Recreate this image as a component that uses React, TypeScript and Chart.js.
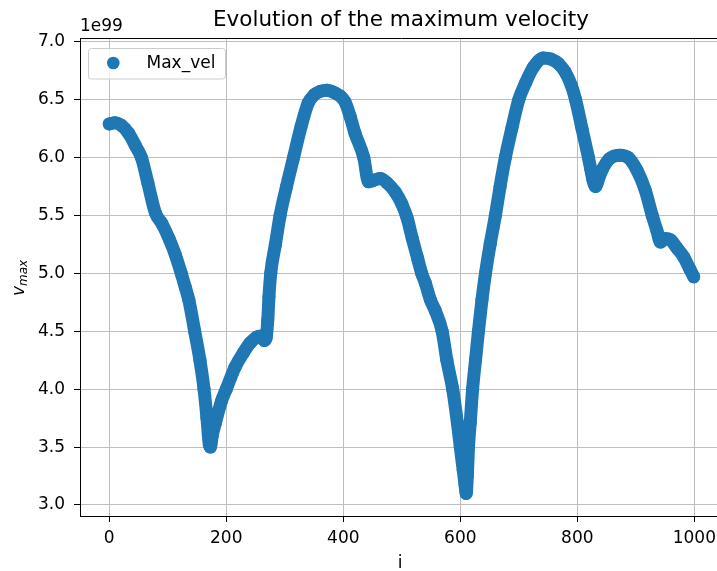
import React, { useEffect, useRef } from "react";
import { Chart, registerables } from "chart.js";

Chart.register(...registerables);

// Sample index i (x axis)
const indices = [
  0, 10, 20, 33, 45, 55, 66, 79, 90, 103, 113, 123, 130, 136, 146, 155, 162, 167, 171, 173,
  176, 181, 192, 200, 215, 230, 241, 252, 260, 265, 268, 271, 273, 276, 284, 292, 303, 315, 328, 340,
  350, 360, 372, 385, 395, 403, 412, 420, 435, 443, 450, 463, 475, 489, 500, 509, 518, 527, 534, 540,
  549, 557, 569, 577, 587, 595, 600, 605, 608, 610, 612, 614, 617, 621, 626, 631, 637, 643, 651, 660,
  668, 677, 688, 700, 712, 725, 742, 755, 768, 779, 790, 797, 808, 819, 823, 826, 831, 838, 842, 855,
  873, 887, 902, 916, 928, 936, 942, 950, 959, 970, 982, 992, 999,
];

// Max velocity, in units of 1e99
const maxVel = [
  6.29, 6.30, 6.28, 6.21, 6.10, 6.00, 5.78, 5.52, 5.43, 5.29, 5.16, 5.00, 4.88, 4.77, 4.50, 4.25, 4.00, 3.75, 3.52, 3.50,
  3.60, 3.70, 3.90, 4.00, 4.19, 4.32, 4.40, 4.45, 4.46, 4.42, 4.44, 4.60, 4.80, 5.00, 5.25, 5.50, 5.75, 6.00, 6.27, 6.47,
  6.54, 6.57, 6.58, 6.56, 6.53, 6.48, 6.35, 6.21, 6.00, 5.79, 5.80, 5.82, 5.78, 5.70, 5.60, 5.48, 5.30, 5.13, 5.00, 4.92,
  4.77, 4.68, 4.50, 4.25, 4.00, 3.71, 3.50, 3.30, 3.18, 3.10, 3.25, 3.50, 3.71, 4.00, 4.25, 4.50, 4.77, 5.00, 5.25, 5.50,
  5.75, 6.00, 6.25, 6.50, 6.65, 6.78, 6.86, 6.85, 6.81, 6.74, 6.62, 6.50, 6.25, 6.00, 5.90, 5.82, 5.75, 5.84, 5.89, 5.99,
  6.02, 6.00, 5.89, 5.72, 5.50, 5.37, 5.27, 5.30, 5.29, 5.22, 5.14, 5.04, 4.97,
];

const xTicks = [0, 200, 400, 600, 800, 1000];
const yTicks = [3.0, 3.5, 4.0, 4.5, 5.0, 5.5, 6.0, 6.5, 7.0];

const seriesLabel = "Max_vel";
const titleText = "Evolution of the maximum velocity";
const offsetText = "1e99";
const xLabel = "i";
const yLabelMain = "v";
const yLabelSub = "max";

const BLUE = "#1f77b4";
const FONT = "'DejaVu Sans', sans-serif";
const TICK_SIZE = 17;
const CANVAS_W = 730;
const CANVAS_H = 571;

const decorPlugin = {
  id: "decor",
  afterDraw(chart: any) {
    const ctx: CanvasRenderingContext2D = chart.ctx;
    const a = chart.chartArea;
    ctx.save();
    // top spine
    ctx.strokeStyle = "#000";
    ctx.lineWidth = 1;
    ctx.beginPath();
    ctx.moveTo(a.left, Math.round(a.top) + 0.5);
    ctx.lineTo(a.right, Math.round(a.top) + 0.5);
    ctx.stroke();

    // title
    ctx.fillStyle = "#000";
    ctx.font = `21.5px ${FONT}`;
    ctx.textAlign = "center";
    ctx.textBaseline = "alphabetic";
    ctx.fillText(titleText, 401, 26);

    // offset text
    ctx.font = `${TICK_SIZE}px ${FONT}`;
    ctx.textAlign = "left";
    ctx.fillText(offsetText, a.left, 31);

    // x label
    ctx.textAlign = "center";
    ctx.fillText(xLabel, 400, 568);

    // y label (v_max), rotated
    ctx.save();
    ctx.translate(24, 278);
    ctx.rotate(-Math.PI / 2);
    ctx.font = `italic ${TICK_SIZE}px ${FONT}`;
    const wMain = ctx.measureText(yLabelMain).width;
    ctx.font = `italic ${TICK_SIZE * 0.7}px ${FONT}`;
    const wSub = ctx.measureText(yLabelSub).width;
    const total = wMain + wSub;
    ctx.textAlign = "left";
    ctx.font = `italic ${TICK_SIZE}px ${FONT}`;
    ctx.fillText(yLabelMain, -total / 2, 0);
    ctx.font = `italic ${TICK_SIZE * 0.7}px ${FONT}`;
    ctx.fillText(yLabelSub, -total / 2 + wMain, 3);
    ctx.restore();

    // legend
    const bx = 88.5, by = 48.5, bw = 137, bh = 30.5;
    ctx.beginPath();
    (ctx as any).roundRect(bx, by, bw, bh, 3);
    ctx.fillStyle = "rgba(255,255,255,0.8)";
    ctx.fill();
    ctx.strokeStyle = "#cccccc";
    ctx.lineWidth = 1;
    ctx.stroke();
    ctx.beginPath();
    ctx.arc(113.3, 63, 6.3, 0, Math.PI * 2);
    ctx.fillStyle = BLUE;
    ctx.fill();
    ctx.fillStyle = "#000";
    ctx.font = `${TICK_SIZE}px ${FONT}`;
    ctx.textAlign = "left";
    ctx.textBaseline = "middle";
    ctx.fillText(seriesLabel, 146.5, 63.5);
    ctx.restore();
  },
};

export default function App() {
  const ref = useRef<HTMLCanvasElement | null>(null);

  useEffect(() => {
    if (!ref.current) return;
    const chart = new Chart(ref.current, {
      type: "scatter",
      data: {
        datasets: [
          {
            label: seriesLabel,
            data: indices.map((x, k) => ({ x, y: maxVel[k] })),
            showLine: true,
            borderColor: BLUE,
            borderWidth: 13,
            borderCapStyle: "round",
            borderJoinStyle: "round",
            cubicInterpolationMode: "monotone",
            pointRadius: 6.5,
            pointHoverRadius: 6.5,
            pointBackgroundColor: BLUE,
            pointBorderWidth: 0,
          } as any,
        ],
      },
      options: {
        responsive: false,
        animation: false,
        events: [],
        devicePixelRatio: 1,
        layout: { padding: { top: 38, left: 0, right: CANVAS_W - 723, bottom: 0 } },
        plugins: {
          legend: { display: false },
          title: { display: false },
          tooltip: { enabled: false },
        },
        scales: {
          x: {
            type: "linear",
            position: "bottom",
            min: -50,
            max: 1049,
            z: 1,
            afterBuildTicks: (s: any) => {
              s.ticks = xTicks.map((v) => ({ value: v }));
            },
            afterFit: (s: any) => {
              s.height = 55;
            },
            grid: {
              color: "#bdbdbd",
              lineWidth: 1,
              drawTicks: true,
              tickLength: 6,
              tickColor: "#000",
            },
            border: { color: "#000", width: 1 },
            ticks: {
              color: "#000",
              padding: 6,
              font: { family: FONT, size: TICK_SIZE },
              callback: (v: any) => String(v),
            },
          },
          y: {
            type: "linear",
            min: 2.905,
            max: 7.032,
            z: 1,
            afterBuildTicks: (s: any) => {
              s.ticks = yTicks.map((v) => ({ value: v }));
            },
            afterFit: (s: any) => {
              s.width = 80;
            },
            grid: {
              color: "#bdbdbd",
              lineWidth: 1,
              drawTicks: true,
              tickLength: 6,
              tickColor: "#000",
            },
            border: { color: "#000", width: 1 },
            ticks: {
              color: "#000",
              padding: 9,
              font: { family: FONT, size: TICK_SIZE },
              callback: (v: any) => Number(v).toFixed(1),
            },
          },
        },
      },
      plugins: [decorPlugin],
    });
    return () => chart.destroy();
  }, []);

  return (
    <div
      style={{
        position: "absolute",
        left: 0,
        top: 0,
        width: 717,
        height: CANVAS_H,
        overflow: "hidden",
        background: "#fff",
      }}
    >
      <canvas ref={ref} width={CANVAS_W} height={CANVAS_H} style={{ width: CANVAS_W, height: CANVAS_H, display: "block" }} />
    </div>
  );
}
